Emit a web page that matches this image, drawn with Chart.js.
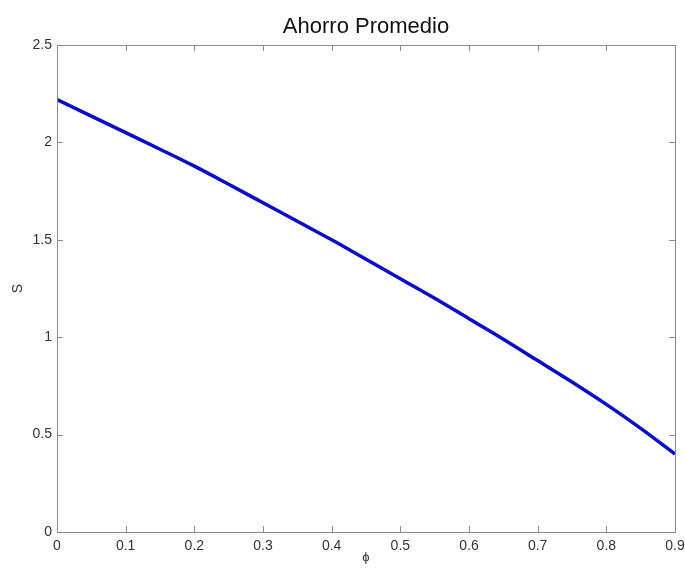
<!DOCTYPE html>
<html>
<head>
<meta charset="utf-8">
<script src="https://cdn.jsdelivr.net/npm/chart.js@4.4.0/dist/chart.umd.min.js"></script>
<style>
html,body{margin:0;padding:0;background:#fff;}
canvas{display:block;}
</style>
</head>
<body>
<canvas id="ahorroChart" width="685" height="568"></canvas>
<script>

/* datos */

var phi=[0,0.05,0.1,0.15,0.2,0.25,0.3,0.35,0.4,0.45,0.5,0.55,0.6,0.65,0.7,0.75,0.8,0.85,0.9];

var ahorro=[2.22,2.135,2.05,1.965,1.878,1.785,1.69,1.595,1.50,1.40,1.30,1.20,1.095,0.99,0.88,0.77,0.655,0.532,0.40];

var xTicks=[0,0.1,0.2,0.3,0.4,0.5,0.6,0.7,0.8,0.9];

var yTicks=[0,0.5,1,1.5,2,2.5];


/* marco y marcas hacia adentro, estilo matlab */

var marcoPlugin={
id:'marco',
afterDraw:function(chart){
var a=chart.chartArea;
var c=chart.ctx;
var xs=chart.scales.x;
var ys=chart.scales.y;
var len=6;
c.save();
c.strokeStyle='#8a8a8a';
c.lineWidth=1;
c.beginPath();
xTicks.forEach(function(v){
var px=Math.round(xs.getPixelForValue(v))+0.5;
c.moveTo(px,a.bottom);
c.lineTo(px,a.bottom-len);
c.moveTo(px,a.top);
c.lineTo(px,a.top+len);
});
yTicks.forEach(function(v){
var py=Math.round(ys.getPixelForValue(v))+0.5;
c.moveTo(a.left,py);
c.lineTo(a.left+len,py);
c.moveTo(a.right,py);
c.lineTo(a.right-len,py);
});
c.stroke();
c.strokeRect(Math.round(a.left)+0.5,Math.round(a.top)+0.5,Math.round(a.right-a.left),Math.round(a.bottom-a.top));
c.restore();
}
};

var fuente='"Liberation Sans", Arial, sans-serif';

var ctx=document.getElementById('ahorroChart');

new Chart(ctx,{

type:'line',

data:{
labels:phi,
datasets:[{
label:'S',
data:phi.map(function(p,i){return {x:p,y:ahorro[i]};}),
borderColor:'#0a0acc',
borderWidth:3.5,
pointRadius:0,
cubicInterpolationMode:'monotone',
fill:false
}]
},

options:{
responsive:false,
animation:false,
layout:{padding:{left:0,right:10,top:0,bottom:0}},
plugins:{
legend:{display:false},
tooltip:{enabled:false},
title:{
display:true,
text:'Ahorro Promedio',
fullSize:false,
color:'#111',
font:{family:fuente,size:22,weight:'normal',lineHeight:1.2},
padding:{top:14,bottom:4.6}
}
},
scales:{
x:{
type:'linear',
min:0,
max:0.9,
afterFit:function(s){s.height=36;s.paddingLeft=0;s.paddingRight=0;},
afterBuildTicks:function(s){s.ticks=xTicks.map(function(v){return {value:v};});},
grid:{display:false,drawTicks:false},
border:{display:false},
ticks:{
padding:6,
color:'#333',
maxRotation:0,
autoSkip:false,
font:{family:fuente,size:14},
callback:function(v){return String(v);}
},
title:{
display:true,
text:'ϕ',
color:'#333',
font:{family:fuente,size:13},
padding:{top:0,bottom:3}
}
},
y:{
min:0,
max:2.5,
afterFit:function(s){s.width=57;},
afterBuildTicks:function(s){s.ticks=yTicks.map(function(v){return {value:v};});},
grid:{display:false,drawTicks:false},
border:{display:false},
ticks:{
padding:5,
color:'#333',
autoSkip:false,
font:{family:fuente,size:14},
callback:function(v){return String(v);}
},
title:{
display:true,
text:'S',
color:'#333',
font:{family:fuente,size:14},
padding:{top:10,bottom:0}
}
}
}
},

plugins:[marcoPlugin]

});

</script>
</body>
</html>
